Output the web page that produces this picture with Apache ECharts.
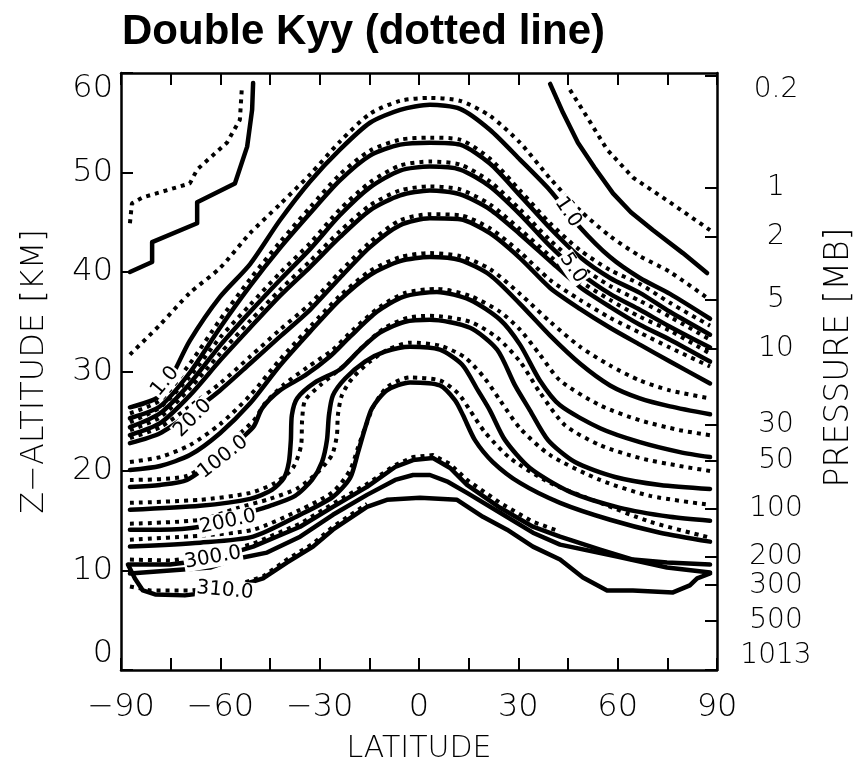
<!DOCTYPE html>
<html><head><meta charset="utf-8">
<script src="https://cdn.jsdelivr.net/npm/echarts@6/dist/echarts.min.js"></script>
<style>html,body{margin:0;padding:0;background:#fff}#c{width:853px;height:762px}</style>
</head><body><div id="c"></div>
<script>
// ---------- data (latitude in degrees, altitude in km) ----------
const LAT_GRID = [-87.3,-78.2,-69.2,-60.1,-51.0,-42.0,-32.9,-23.9,-14.8,-5.7,3.3,12.4,21.4,30.5,39.6,48.6,57.7,66.7,75.8,87.9];

// solid contours on the common latitude grid
const S1_ALT = [26.4,27.6,33.1,37.5,40.8,45.2,49.1,52.3,55.0,56.3,56.8,56.4,54.3,51.3,48.2,44.5,41.5,39.4,37.8,35.3];
const S2_ALT = [25.3,26.5,29.9,34.4,38.6,42.4,45.9,49.2,51.7,52.8,53.0,52.8,50.9,47.7,44.4,41.5,39.4,37.9,36.0,33.7];
const S3_ALT = [24.4,25.8,28.8,32.6,36.0,39.2,42.3,45.7,48.5,50.2,50.6,50.3,48.6,45.8,42.6,39.9,37.8,36.2,34.5,32.4];
const S4_ALT = [23.6,24.8,27.6,31.1,34.4,37.6,40.5,43.5,46.2,47.7,48.2,47.8,46.3,43.8,41.1,38.5,36.5,34.7,33.2,31.0];
const S5_ALT = [22.8,23.8,25.8,28.1,30.8,33.5,36.2,39.4,42.5,44.7,45.4,45.3,43.9,41.4,38.4,36.3,34.4,32.7,31.0,28.8];
const S6_ALT = [20.1,20.5,21.6,23.8,26.8,30.6,34.0,37.2,39.7,41.1,41.5,41.2,39.7,36.8,33.6,30.8,28.6,27.3,26.5,25.7];
// dotted contours (double Kyy) on the same grid
const D1_ALT = [31.7,34.7,37.9,40.4,43.9,46.8,49.8,53.1,55.9,57.2,57.5,57.2,55.7,53.0,49.4,46.2,43.6,41.6,40.0,37.2];
const D2_ALT = [25.8,27.1,30.8,35.2,39.3,43.0,46.5,49.8,52.2,53.3,53.5,53.3,51.4,48.2,44.9,42.2,40.2,38.8,36.9,34.6];
const D3_ALT = [24.9,26.4,29.5,33.4,36.7,39.9,42.9,46.3,49.0,50.7,51.1,50.8,49.1,46.3,43.2,40.6,38.6,37.1,35.5,33.2];
const D4_ALT = [24.1,25.4,28.3,31.8,35.1,38.2,41.1,44.1,46.7,48.2,48.6,48.3,46.8,44.3,41.6,39.1,37.2,35.5,34.1,31.8];
const D5_ALT = [23.3,24.4,26.5,28.8,31.5,34.2,36.8,40.0,43.0,45.2,45.8,45.7,44.4,42.0,39.2,37.2,35.4,33.9,32.4,30.5];
const D6_ALT = [20.9,21.4,22.6,24.7,27.6,31.2,34.5,37.6,40.1,41.5,41.9,41.6,40.3,37.8,35.0,32.5,30.6,29.1,28.1,27.3];

// contours traced point by point [lat, alt]
const P1_SOLID = [[-87.3,40.0],[-80.6,41.0],[-80.6,43.0],[-67.0,44.9],[-67.0,47.0],[-55.6,48.9],[-51.9,52.6],[-50.4,56.3],[-50.1,59.0]];
const P1_DOTTED = [[-87.3,44.9],[-86.7,46.9],[-83.4,47.5],[-69.2,48.9],[-67.0,50.3],[-58.0,53.0],[-54.1,55.3],[-53.5,58.5]];
const P2_SOLID = [[39.6,58.9],[43.5,56.0],[48.0,53.0],[53.0,50.5],[58.6,47.9],[64.0,46.0],[70.7,44.2],[79.7,41.9],[87.0,39.9]];
const P2_DOTTED = [[45.6,58.3],[50.7,55.6],[56.8,52.3],[64.6,49.5],[74.9,47.2],[84.9,44.9],[87.9,44.2]];

const S7 = [[-87.3,18.4],[-78.2,18.6],[-70.1,19.1],[-60.1,21.5],[-50.1,24.4],[-47.4,26.3],[-42.0,28.1],[-34.4,29.6],[-26.9,31.5],[-20.8,33.5],[-12.7,36.0],[-4.8,37.5],[5.4,38.0],[15.4,37.2],[24.5,35.2],[30.5,32.7],[36.5,29.1],[42.6,26.6],[54.7,24.3],[66.7,22.9],[78.8,21.9],[87.9,21.4]];
const S8 = [[-87.3,16.1],[-66.1,16.5],[-51.0,17.2],[-44.4,18.1],[-40.8,19.3],[-39.3,20.9],[-38.7,23.1],[-38.4,25.6],[-36.8,27.3],[-31.4,28.9],[-23.9,30.2],[-17.8,32.2],[-11.8,33.9],[-4.2,35.0],[3.3,35.2],[15.4,34.4],[23.6,32.2],[29.0,28.6],[33.5,26.1],[39.0,23.1],[47.1,20.9],[59.2,19.4],[72.8,18.6],[87.9,18.2]];
const S9 = [[-87.3,14.1],[-78.2,14.1],[-66.1,14.4],[-54.7,15.5],[-45.0,16.5],[-37.4,17.5],[-32.3,19.1],[-29.3,20.9],[-27.8,23.1],[-27.2,25.6],[-26.0,27.6],[-22.3,29.3],[-16.3,31.0],[-10.3,32.0],[-2.7,32.5],[6.3,32.2],[13.0,30.7],[17.8,28.1],[21.4,26.1],[26.0,23.1],[33.5,20.3],[45.6,17.9],[60.7,16.3],[75.8,15.4],[87.9,15.0]];
const S10 = [[-87.3,12.4],[-66.1,12.8],[-50.1,13.4],[-35.9,15.6],[-26.0,17.4],[-20.8,19.3],[-18.4,21.9],[-16.3,24.3],[-14.2,26.3],[-9.7,28.1],[-2.7,28.9],[6.3,28.6],[10.9,27.1],[13.3,25.6],[16.9,23.1],[22.3,20.9],[30.5,18.8],[42.6,16.8],[57.7,15.1],[72.8,13.8],[87.9,12.9]];
const T1 = [[-87.3,10.6],[-75.2,10.6],[-63.1,11.1],[-50.1,12.4],[-35.9,14.4],[-26.0,16.4],[-15.7,18.4],[-7.2,20.4],[-1.8,21.1],[4.2,21.3],[9.4,20.3],[14.5,18.6],[24.5,16.3],[34.4,14.4],[42.6,13.4],[54.7,12.1],[64.6,11.1],[74.9,10.8],[87.9,10.6]];
const T2 = [[-87.3,9.7],[-63.1,10.3],[-56.2,11.1],[-45.9,11.8],[-35.9,13.4],[-26.0,15.6],[-15.7,17.6],[-7.2,19.1],[-1.8,19.6],[3.3,19.6],[8.8,18.9],[14.5,17.8],[24.5,15.8],[34.4,13.8],[42.6,12.6],[59.8,11.4],[74.9,10.3],[87.9,9.8]];
const T3 = [[-87.9,10.6],[-85.8,9.2],[-83.4,8.0],[-79.7,7.6],[-70.7,7.5],[-58.6,8.0],[-47.1,9.2],[-39.9,10.8],[-32.0,12.4],[-26.0,14.1],[-15.7,16.4],[-9.7,17.1],[0.3,17.3],[11.5,17.1],[19.3,15.4],[26.6,14.1],[34.4,12.4],[42.6,11.1],[49.5,9.3],[56.8,8.0],[64.6,8.0],[76.7,7.8],[81.8,8.5],[84.0,9.2],[87.9,9.7]];

const D7 = [[-87.3,19.1],[-70.1,19.5],[-60.1,22.1],[-50.1,25.0],[-46.5,26.8],[-41.1,28.6],[-33.8,30.4],[-26.0,32.2],[-19.9,34.2],[-11.8,36.5],[-4.2,37.9],[5.4,38.3],[15.4,37.6],[24.5,36.0],[30.5,34.2],[36.5,31.7],[42.6,29.1],[54.7,26.6],[66.7,25.1],[78.8,24.1],[87.9,23.6]];
const D8 = [[-87.3,16.8],[-66.1,17.1],[-51.0,17.8],[-43.5,18.8],[-38.1,20.3],[-35.6,22.6],[-35.3,25.1],[-34.4,27.1],[-29.9,28.6],[-22.3,30.7],[-16.3,32.7],[-10.3,34.4],[-3.3,35.4],[3.3,35.6],[15.4,35.0],[23.6,33.4],[30.5,31.0],[36.5,27.9],[44.1,24.6],[54.7,22.6],[66.7,21.3],[78.8,20.5],[87.9,20.0]];
const D9 = [[-87.3,14.7],[-66.1,15.1],[-54.7,16.3],[-45.0,17.2],[-36.5,18.3],[-30.5,19.9],[-26.3,21.6],[-24.8,23.6],[-24.5,25.6],[-23.3,27.6],[-20.2,29.3],[-14.8,31.0],[-9.4,32.2],[-2.7,32.9],[6.3,32.6],[13.9,31.4],[19.9,29.3],[24.5,27.1],[30.5,24.3],[39.6,21.6],[54.7,19.1],[69.8,17.5],[87.9,16.6]];
const D10 = [[-87.3,13.1],[-66.1,13.5],[-50.1,14.1],[-35.9,16.1],[-26.0,17.9],[-20.8,20.1],[-18.4,22.4],[-16.0,24.6],[-13.6,26.6],[-9.4,28.5],[-2.7,29.4],[6.3,29.1],[11.8,27.8],[15.4,26.1],[19.9,23.9],[27.5,21.3],[39.6,18.8],[54.7,16.8],[69.8,14.9],[87.9,13.3]];
const DT1 = [[-87.3,11.1],[-75.2,11.0],[-63.1,11.5],[-50.1,12.7],[-35.9,14.7],[-26.0,16.7],[-15.7,18.7],[-7.2,20.6],[-1.8,21.4],[4.2,21.6],[9.4,20.7],[14.5,19.1],[24.5,16.8],[34.4,14.9],[42.6,13.9]];
const DT3 = [[-87.3,8.4],[-81.2,8.0],[-69.2,8.0],[-57.1,8.3],[-47.1,9.4],[-39.9,11.1],[-32.0,12.7],[-26.0,14.4],[-15.7,16.7]];

// contour labels
const LABEL_TEXT = ['1.0','20.0','100.0','200.0','300.0','310.0','1.0','5.0'];
const LABEL_AT   = [[-76.7,29.0],[-68.3,25.3],[-59.2,21.4],[-57.7,14.9],[-62.2,11.3],[-58.6,8.0],[45.0,46.0],[46.5,40.4]];
const LABEL_ANGLE = [50,45,38,12,10,-5,-56,-56];

// axes
const LAT_LABELS = [-90,-60,-30,0,30,60,90];
const PRESSURE_TICKS = [0.2,1,2,5,10,30,50,100,200,300,500,1013];
const SURFACE_P = 1013, SCALE_HEIGHT_KM = 7;
const PRESSURE_ALT = PRESSURE_TICKS.map(p => SCALE_HEIGHT_KM * Math.log(SURFACE_P / p));
const PRESSURE_ALT_ASC = PRESSURE_ALT.slice().sort((a,b)=>a-b);

// ---------- chart ----------
const onGrid = a => LAT_GRID.map((la, i) => [la, a[i]]);
const tickFont = s => ({fontFamily:'DejaVu Sans', fontSize:s, fontWeight:200, color:'#000'});
const nameFont = (s, extra) => Object.assign({fontFamily:'DejaVu Sans', fontSize:s, fontWeight:200, color:'#000'}, extra || {});

function solid(data, smooth) {
  return {type:'line', data, symbol:'none', smooth: smooth ? 0.25 : false, z:3,
    lineStyle:{color:'#000', width:4.5, cap:'round', join:'round'}, silent:true};
}
function dotted(data, smooth) {
  return {type:'line', data, symbol:'none', smooth: smooth ? 0.25 : false, z:4,
    lineStyle:{color:'#000', width:4, type:[4,5], cap:'butt'}, silent:true};
}

const series = [
  solid(P1_SOLID,false), dotted(P1_DOTTED,false), solid(P2_SOLID,false), dotted(P2_DOTTED,false),
  solid(onGrid(S1_ALT),true), solid(onGrid(S2_ALT),true), solid(onGrid(S3_ALT),true),
  solid(onGrid(S4_ALT),true), solid(onGrid(S5_ALT),true), solid(onGrid(S6_ALT),true),
  dotted(onGrid(D1_ALT),true), dotted(onGrid(D2_ALT),true), dotted(onGrid(D3_ALT),true),
  dotted(onGrid(D4_ALT),true), dotted(onGrid(D5_ALT),true), dotted(onGrid(D6_ALT),true),
  solid(S7,true), solid(S8,true), solid(S9,true), solid(S10,true),
  solid(T1,false), solid(T2,false), solid(T3,false),
  dotted(D7,true), dotted(D8,true), dotted(D9,true), dotted(D10,true), dotted(DT1,false), dotted(DT3,false),
  {type:'scatter', symbolSize:0, z:10, silent:true,
   data: LABEL_TEXT.map((t,i)=>({name:t, value:LABEL_AT[i], label:{rotate:LABEL_ANGLE[i]}})),
   label:{show:true, position:'inside', formatter:p=>p.name, fontFamily:'DejaVu Sans', fontSize:20, fontWeight:'normal',
          color:'#000', opacity:1, textBorderWidth:0, backgroundColor:'#ffffff', padding:[0,1]}}
];

const tickStyle = {inside:true, length:12, lineStyle:{color:'#000', width:2}};
const lineStyle = {onZero:false, lineStyle:{color:'#000', width:2.5}};

const chart = echarts.init(document.getElementById('c'), null, {renderer:'canvas'});
chart.setOption({
  animation:false,
  backgroundColor:'#fff',
  title:{text:'Double Kyy (dotted line)', left:117, top:6,
         textStyle:{fontFamily:'Liberation Sans, Arial', fontWeight:'bold', fontSize:42, color:'#000'}},
  grid:{left:121, right:136, top:73, bottom:92, containLabel:false, outerBoundsMode:'none'},
  xAxis:[
    {type:'value', min:-90, max:90, interval:15, position:'bottom',
     name:'LATITUDE', nameLocation:'middle', nameGap:64, nameTextStyle:nameFont(30),
     axisLine:lineStyle, axisTick:tickStyle,
     axisLabel:Object.assign({margin:22, formatter:v => LAT_LABELS.includes(v) ? (v<0 ? '\u2212'+Math.abs(v) : String(v)) : ''}, tickFont(32)),
     splitLine:{show:false}},
    {type:'value', min:-90, max:90, interval:15, position:'top',
     axisLine:lineStyle, axisTick:tickStyle,
     axisLabel:{show:false}, splitLine:{show:false}}
  ],
  yAxis:[
    {type:'value', min:0, max:60, interval:10, position:'left',
     name:'Z\u2212ALTITUDE [KM]', nameLocation:'middle', nameGap:70, nameRotate:90, nameTextStyle:nameFont(32),
     axisLine:lineStyle, axisTick:tickStyle,
     axisLabel:Object.assign({margin:8, verticalAlignMaxLabel:'top', verticalAlignMinLabel:'bottom'}, tickFont(32)),
     splitLine:{show:false}},
    {type:'value', min:0, max:60, position:'right',
     name:'PRESSURE [MB]', nameLocation:'middle', nameGap:104, nameRotate:90, nameTextStyle:nameFont(33, {padding:[0,0,0,28]}),
     axisLine:lineStyle,
     axisTick:Object.assign({customValues:PRESSURE_ALT_ASC}, tickStyle),
     axisLabel:Object.assign({customValues:PRESSURE_ALT_ASC, margin:59, align:'center',
       verticalAlignMaxLabel:'top', verticalAlignMinLabel:'bottom',
       formatter:v => { let k = 0, d = 1e9; PRESSURE_ALT.forEach((z,i)=>{ if (Math.abs(z-v)<d){d=Math.abs(z-v);k=i;} }); return String(PRESSURE_TICKS[k]); }}, tickFont(28)),
     splitLine:{show:false}}
  ],
  series
});
</script></body></html>
